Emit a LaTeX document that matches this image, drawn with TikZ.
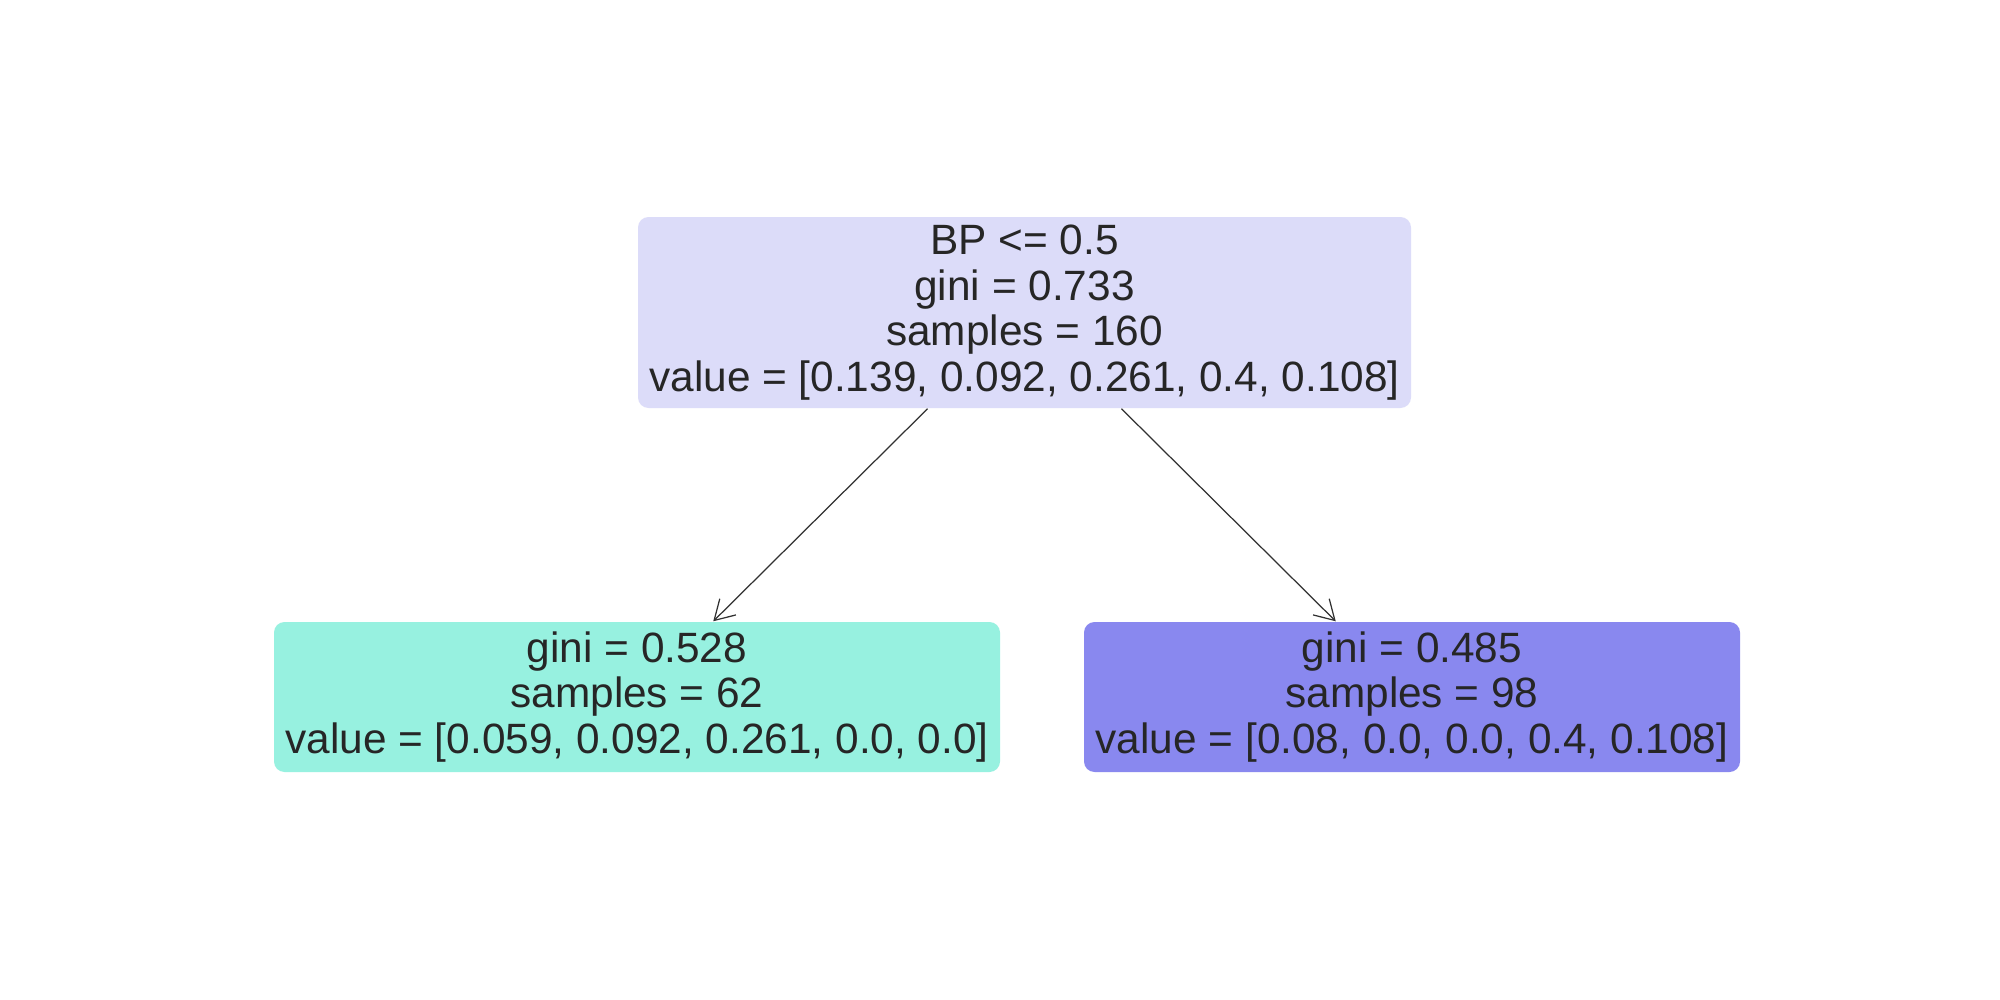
\documentclass[tikz,border=0pt]{standalone}
\usepackage{fontspec}
\setmainfont{Liberation Sans}
\usetikzlibrary{arrows.meta}
\definecolor{txt}{HTML}{262626}
\definecolor{rootc}{HTML}{DCDCF9}
\definecolor{leftc}{HTML}{97F1E0}
\definecolor{rightc}{HTML}{8988EF}
\tikzset{
  treebox/.style={rectangle, rounded corners=3pt, inner sep=0pt, align=center,
    text=txt, font=\fontsize{12.05}{13.0}\selectfont},
  edge/.style={draw=txt!95, line width=0.35pt, -{Straight Barb[length=5.5pt,width=6.5pt,line width=0.35pt]}}
}
\begin{document}
\begin{tikzpicture}[x=0.01cm,y=-0.01cm]
\useasboundingbox (0,0) rectangle (2000,1000);
\fill[white] (0,0) rectangle (2000,1000);
\node[treebox, fill=rootc, minimum width=773*0.01cm, minimum height=191*0.01cm] (root) at (1024.5,312.5)
  {BP <= 0.5\\gini = 0.733\\samples = 160\\value = [0.139, 0.092, 0.261, 0.4, 0.108]};
\node[treebox, fill=leftc, minimum width=726*0.01cm, minimum height=150*0.01cm] (left) at (637,697)
  {gini = 0.528\\samples = 62\\value = [0.059, 0.092, 0.261, 0.0, 0.0]};
\node[treebox, fill=rightc, minimum width=656*0.01cm, minimum height=150*0.01cm] (right) at (1412,697)
  {gini = 0.485\\samples = 98\\value = [0.08, 0.0, 0.0, 0.4, 0.108]};
\draw[edge] (root) -- (left);
\draw[edge] (root) -- (right);
\end{tikzpicture}
\end{document}
